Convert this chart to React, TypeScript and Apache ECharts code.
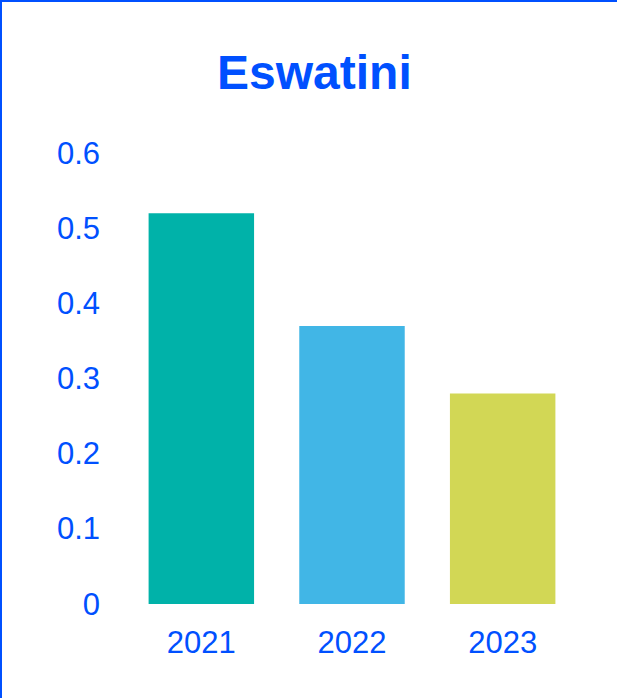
import React, { useEffect, useRef } from "react";
import * as echarts from "echarts";

const categories = ["2021", "2022", "2023"];
const values = [0.52, 0.37, 0.28];
const barColors = ["#00b2a9", "#41b6e6", "#d2d755"];
const titleText = "Eswatini";

const BLUE = "#0050ff";
const FONT = "'Liberation Sans', Arial, Helvetica, sans-serif";

export default function App() {
  const ref = useRef<HTMLDivElement>(null);
  useEffect(() => {
    if (!ref.current) return;
    const chart = echarts.init(ref.current, null, { renderer: "svg" });
    chart.setOption({
      animation: false,
      backgroundColor: "#ffffff",
      title: {
        text: titleText,
        left: 212,
        top: 43,
        textStyle: { color: BLUE, fontFamily: FONT, fontWeight: "bold", fontSize: 48 },
      },
      grid: { left: 126, right: 39, top: 153, bottom: 94, containLabel: false },
      xAxis: {
        type: "category",
        data: categories,
        axisLine: { show: false },
        axisTick: { show: false },
        axisLabel: { color: BLUE, fontFamily: FONT, fontSize: 31, margin: 23 },
      },
      yAxis: {
        type: "value",
        min: 0,
        max: 0.6,
        interval: 0.1,
        splitLine: { show: false },
        axisLine: { show: false },
        axisTick: { show: false },
        axisLabel: { color: BLUE, fontFamily: FONT, fontSize: 31, margin: 26 },
      },
      series: [
        {
          type: "bar",
          barWidth: "70%",
          data: values.map((v, i) => ({ value: v, itemStyle: { color: barColors[i] } })),
        },
      ],
    });
    return () => chart.dispose();
  }, []);
  return (
    <div style={{ position: "fixed", left: 0, top: 0, width: 617, height: 698, background: "#fff" }}>
      <div ref={ref} style={{ width: 617, height: 698 }} />
      <div
        style={{
          position: "absolute",
          left: 0,
          top: 0,
          width: 617,
          height: 698,
          boxSizing: "border-box",
          borderTop: `2px solid ${BLUE}`,
          borderLeft: `2px solid ${BLUE}`,
          pointerEvents: "none",
        }}
      />
    </div>
  );
}
